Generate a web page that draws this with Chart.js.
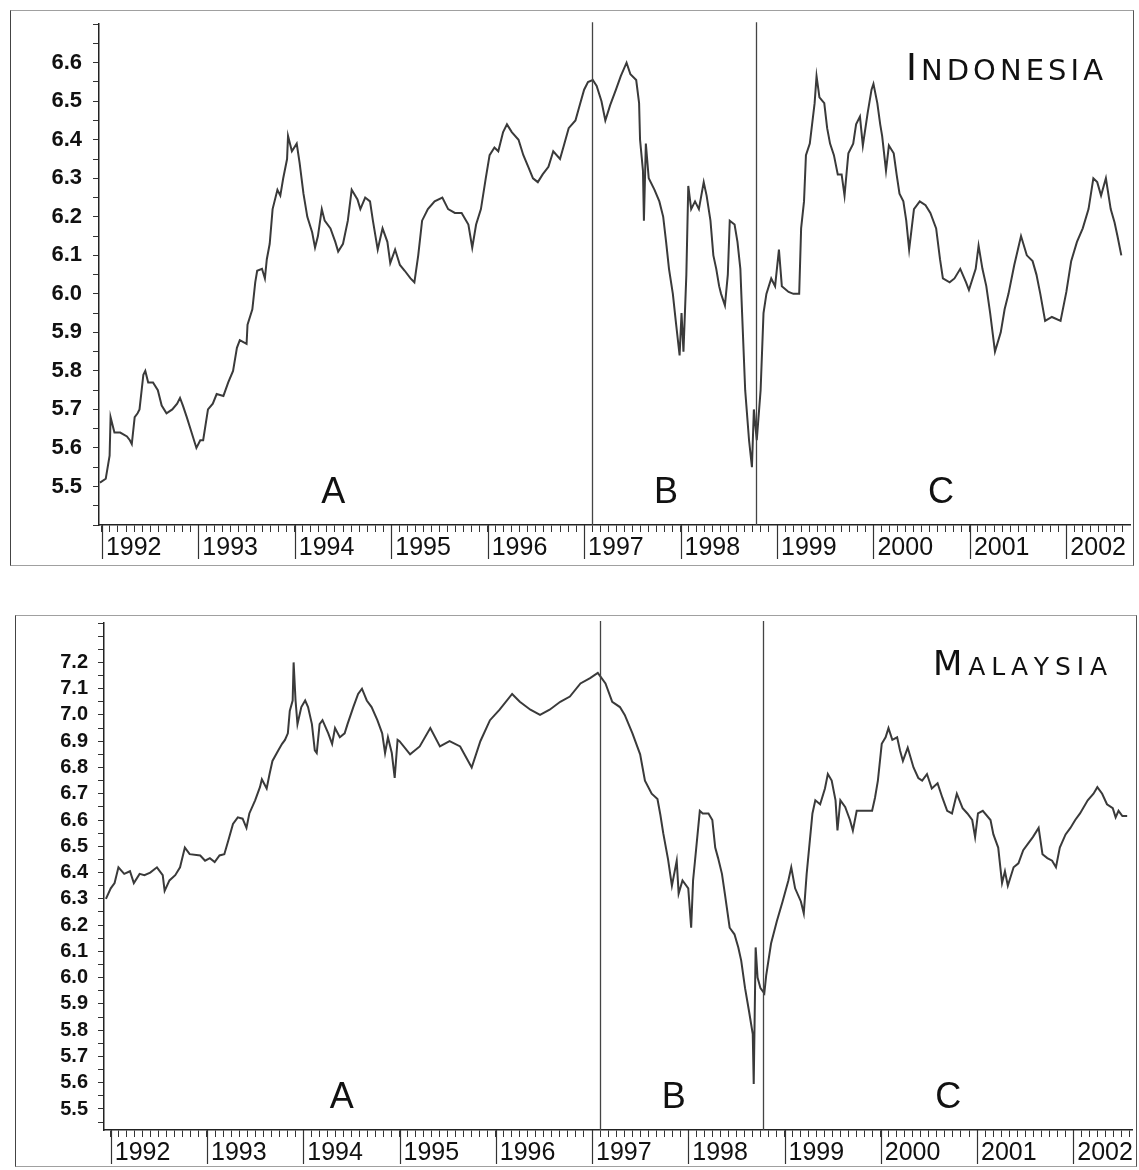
<!DOCTYPE html>
<html>
<head>
<meta charset="utf-8">
<title>Indonesia / Malaysia</title>
<script src="https://cdn.jsdelivr.net/npm/chart.js@4.4.1/dist/chart.umd.min.js"></script>
<style>
  html, body { margin: 0; padding: 0; background: #fff; }
  body { width: 1139px; height: 1170px; position: relative; overflow: hidden; }
  .panel { position: absolute; left: 0; width: 1139px; height: 580px; }
  .frame { position: absolute; pointer-events: none; border-style: solid; border-width: 1px;
           border-color: #a0a0a0 #555 #a0a0a0 #444; }
</style>
</head>
<body>
<div class="frame" style="left:10px;top:10px;width:1122px;height:554px"></div>
<div class="panel" style="top:0"><canvas id="indonesia"></canvas></div>
<div class="frame" style="left:15px;top:615px;width:1120px;height:550px"></div>
<div class="panel" style="top:590px"><canvas id="malaysia"></canvas></div>

<script>
// year axis, regime breaks and regime names (shared by both panels)
const years = [1992, 1993, 1994, 1995, 1996, 1997, 1998, 1999, 2000, 2001, 2002];
const breakDates = [1997.08, 1998.78];
const regimeNames = ['A', 'B', 'C'];
const regimeCentres = [1994.4, 1997.85, 2000.7];

// y tick labels
const indoYLabels = [5.5, 5.6, 5.7, 5.8, 5.9, 6.0, 6.1, 6.2, 6.3, 6.4, 6.5, 6.6];
const malYLabels = [5.5, 5.6, 5.7, 5.8, 5.9, 6.0, 6.1, 6.2, 6.3, 6.4, 6.5, 6.6, 6.7, 6.8, 6.9, 7.0, 7.1, 7.2];

// [decimal year, value]
const indonesia = [
  [1991.98,5.51],[1992.04,5.52],[1992.08,5.58],[1992.09,5.68],[1992.13,5.64],[1992.19,5.64],[1992.26,5.63],
  [1992.29,5.62],[1992.31,5.61],[1992.34,5.68],[1992.37,5.69],[1992.39,5.70],[1992.43,5.79],[1992.45,5.80],
  [1992.48,5.77],[1992.53,5.77],[1992.58,5.75],[1992.62,5.71],[1992.67,5.69],[1992.73,5.70],[1992.78,5.715],
  [1992.81,5.73],[1992.84,5.71],[1992.88,5.68],[1992.93,5.64],[1992.98,5.60],[1993.02,5.62],[1993.05,5.62],
  [1993.10,5.70],[1993.15,5.715],[1993.19,5.74],[1993.26,5.735],[1993.31,5.77],[1993.36,5.80],[1993.40,5.86],
  [1993.43,5.88],[1993.50,5.87],[1993.51,5.92],[1993.56,5.96],[1993.59,6.03],[1993.61,6.06],[1993.66,6.065],
  [1993.69,6.04],[1993.71,6.09],[1993.74,6.13],[1993.77,6.22],[1993.82,6.27],[1993.85,6.255],[1993.88,6.30],
  [1993.92,6.35],[1993.93,6.41],[1993.97,6.37],[1994.02,6.39],[1994.05,6.34],[1994.09,6.26],[1994.13,6.20],
  [1994.18,6.16],[1994.21,6.12],[1994.24,6.15],[1994.28,6.22],[1994.31,6.19],[1994.37,6.17],[1994.42,6.135],
  [1994.45,6.11],[1994.50,6.13],[1994.55,6.19],[1994.59,6.27],[1994.65,6.245],[1994.68,6.22],[1994.73,6.25],
  [1994.78,6.24],[1994.81,6.19],[1994.86,6.115],[1994.91,6.17],[1994.96,6.135],[1994.99,6.08],[1995.04,6.115],
  [1995.09,6.075],[1995.14,6.06],[1995.20,6.04],[1995.24,6.03],[1995.28,6.10],[1995.32,6.19],[1995.38,6.22],
  [1995.45,6.24],[1995.53,6.25],[1995.59,6.22],[1995.66,6.21],[1995.73,6.21],[1995.80,6.18],[1995.84,6.12],
  [1995.88,6.18],[1995.93,6.22],[1995.98,6.30],[1996.02,6.36],[1996.07,6.38],[1996.11,6.37],[1996.16,6.42],
  [1996.20,6.44],[1996.25,6.42],[1996.32,6.40],[1996.37,6.36],[1996.42,6.33],[1996.47,6.30],[1996.52,6.29],
  [1996.57,6.31],[1996.63,6.33],[1996.68,6.37],[1996.75,6.35],[1996.79,6.385],[1996.84,6.43],[1996.91,6.45],
  [1996.96,6.495],[1997.00,6.53],[1997.04,6.55],[1997.09,6.555],[1997.13,6.54],[1997.18,6.50],[1997.22,6.45],
  [1997.27,6.49],[1997.33,6.53],[1997.38,6.565],[1997.44,6.60],[1997.48,6.57],[1997.54,6.555],[1997.57,6.495],
  [1997.58,6.40],[1997.61,6.32],[1997.62,6.19],[1997.64,6.39],[1997.67,6.30],[1997.73,6.27],[1997.78,6.24],
  [1997.82,6.20],[1997.85,6.135],[1997.88,6.065],[1997.92,6.00],[1997.95,5.93],[1997.99,5.84],[1998.01,5.95],
  [1998.03,5.85],[1998.06,6.05],[1998.08,6.28],[1998.11,6.22],[1998.15,6.24],[1998.19,6.22],[1998.24,6.29],
  [1998.27,6.255],[1998.31,6.19],[1998.34,6.10],[1998.37,6.065],[1998.40,6.02],[1998.42,6.00],[1998.46,5.97],
  [1998.49,6.05],[1998.51,6.19],[1998.56,6.18],[1998.59,6.135],[1998.62,6.065],[1998.63,6.00],[1998.67,5.75],
  [1998.71,5.62],[1998.74,5.55],[1998.76,5.70],[1998.79,5.62],[1998.83,5.75],[1998.86,5.95],[1998.89,6.00],
  [1998.94,6.04],[1998.98,6.02],[1999.02,6.115],[1999.05,6.02],[1999.12,6.005],[1999.17,6.00],[1999.23,6.00],
  [1999.25,6.17],[1999.28,6.24],[1999.30,6.36],[1999.34,6.39],[1999.39,6.495],[1999.41,6.565],[1999.44,6.51],
  [1999.49,6.495],[1999.52,6.43],[1999.55,6.39],[1999.59,6.36],[1999.63,6.31],[1999.67,6.31],[1999.70,6.255],
  [1999.74,6.365],[1999.79,6.39],[1999.82,6.44],[1999.86,6.46],[1999.89,6.385],[1999.94,6.47],[1999.98,6.53],
  [2000.00,6.545],[2000.04,6.495],[2000.07,6.44],[2000.09,6.41],[2000.13,6.32],[2000.16,6.385],[2000.21,6.365],
  [2000.24,6.31],[2000.27,6.26],[2000.31,6.24],[2000.34,6.19],[2000.37,6.115],[2000.42,6.22],[2000.48,6.24],
  [2000.54,6.23],[2000.59,6.21],[2000.65,6.17],[2000.69,6.09],[2000.72,6.04],[2000.79,6.03],[2000.84,6.04],
  [2000.90,6.065],[2000.96,6.03],[2000.99,6.01],[2001.06,6.065],[2001.09,6.125],[2001.13,6.065],[2001.17,6.02],
  [2001.21,5.95],[2001.26,5.85],[2001.32,5.90],[2001.36,5.96],[2001.40,6.00],[2001.46,6.075],[2001.53,6.15],
  [2001.59,6.10],[2001.65,6.085],[2001.69,6.05],[2001.73,6.00],[2001.78,5.93],[2001.85,5.94],[2001.94,5.93],
  [2002.00,6.005],[2002.05,6.085],[2002.11,6.135],[2002.17,6.17],[2002.23,6.22],[2002.28,6.30],[2002.32,6.29],
  [2002.36,6.255],[2002.41,6.30],[2002.46,6.22],[2002.50,6.185],[2002.53,6.15],[2002.57,6.10]
];

const malaysia = [
  [1991.95,6.30],[1992.00,6.34],[1992.04,6.36],[1992.08,6.42],[1992.14,6.395],[1992.20,6.405],[1992.24,6.36],
  [1992.30,6.395],[1992.35,6.39],[1992.41,6.40],[1992.48,6.42],[1992.54,6.39],[1992.56,6.33],[1992.61,6.37],
  [1992.67,6.39],[1992.72,6.42],[1992.77,6.495],[1992.82,6.47],[1992.93,6.465],[1992.98,6.445],[1993.03,6.455],
  [1993.08,6.44],[1993.13,6.465],[1993.18,6.47],[1993.22,6.52],[1993.27,6.585],[1993.32,6.61],[1993.37,6.605],
  [1993.41,6.57],[1993.44,6.625],[1993.50,6.675],[1993.55,6.725],[1993.57,6.755],[1993.62,6.72],[1993.65,6.775],
  [1993.68,6.825],[1993.74,6.865],[1993.78,6.89],[1993.81,6.905],[1993.84,6.93],[1993.86,7.015],[1993.89,7.055],
  [1993.90,7.20],[1993.92,7.055],[1993.94,6.965],[1993.98,7.03],[1994.02,7.055],[1994.05,7.03],[1994.09,6.965],
  [1994.12,6.865],[1994.14,6.855],[1994.17,6.965],[1994.20,6.98],[1994.26,6.93],[1994.30,6.89],[1994.33,6.95],
  [1994.38,6.915],[1994.43,6.93],[1994.46,6.965],[1994.52,7.03],[1994.57,7.08],[1994.61,7.10],[1994.66,7.055],
  [1994.71,7.03],[1994.77,6.98],[1994.82,6.93],[1994.85,6.855],[1994.88,6.915],[1994.92,6.855],[1994.95,6.76],
  [1994.98,6.905],[1995.00,6.90],[1995.11,6.85],[1995.21,6.88],[1995.32,6.95],[1995.42,6.88],[1995.52,6.90],
  [1995.63,6.88],[1995.75,6.80],[1995.84,6.90],[1995.94,6.98],[1996.04,7.02],[1996.17,7.08],[1996.25,7.05],
  [1996.36,7.02],[1996.46,7.00],[1996.56,7.02],[1996.67,7.05],[1996.77,7.07],[1996.88,7.12],[1996.98,7.14],
  [1997.06,7.16],[1997.14,7.12],[1997.21,7.05],[1997.29,7.03],[1997.34,7.00],[1997.42,6.93],[1997.50,6.85],
  [1997.55,6.75],[1997.62,6.70],[1997.68,6.68],[1997.71,6.62],[1997.74,6.55],[1997.79,6.45],[1997.83,6.35],
  [1997.88,6.445],[1997.90,6.32],[1997.94,6.37],[1998.00,6.34],[1998.03,6.19],[1998.05,6.37],[1998.07,6.445],
  [1998.12,6.635],[1998.15,6.625],[1998.21,6.625],[1998.25,6.60],[1998.28,6.495],[1998.31,6.455],[1998.35,6.395],
  [1998.38,6.32],[1998.43,6.19],[1998.48,6.165],[1998.52,6.115],[1998.55,6.065],[1998.59,5.96],[1998.63,5.875],
  [1998.67,5.785],[1998.68,5.595],[1998.70,6.115],[1998.72,6.00],[1998.75,5.96],[1998.79,5.94],[1998.81,6.01],
  [1998.86,6.13],[1998.92,6.215],[1998.98,6.29],[1999.04,6.37],[1999.07,6.42],[1999.11,6.34],[1999.17,6.29],
  [1999.20,6.245],[1999.23,6.395],[1999.29,6.625],[1999.32,6.675],[1999.37,6.66],[1999.42,6.72],[1999.45,6.775],
  [1999.49,6.75],[1999.53,6.675],[1999.55,6.56],[1999.58,6.675],[1999.63,6.65],[1999.68,6.60],[1999.71,6.56],
  [1999.75,6.635],[1999.81,6.635],[1999.86,6.635],[1999.91,6.635],[1999.94,6.685],[1999.97,6.75],[2000.01,6.89],
  [2000.05,6.915],[2000.08,6.95],[2000.12,6.905],[2000.17,6.915],[2000.20,6.865],[2000.23,6.825],[2000.28,6.875],
  [2000.34,6.80],[2000.39,6.76],[2000.43,6.75],[2000.48,6.775],[2000.53,6.72],[2000.59,6.74],[2000.64,6.685],
  [2000.69,6.635],[2000.74,6.625],[2000.79,6.70],[2000.85,6.645],[2000.90,6.625],[2000.95,6.60],[2000.98,6.535],
  [2001.01,6.625],[2001.06,6.635],[2001.14,6.60],[2001.17,6.545],[2001.22,6.495],[2001.26,6.36],[2001.29,6.405],
  [2001.32,6.35],[2001.38,6.42],[2001.43,6.435],[2001.48,6.485],[2001.53,6.51],[2001.58,6.535],[2001.64,6.57],
  [2001.68,6.47],[2001.73,6.455],[2001.78,6.445],[2001.82,6.42],[2001.86,6.495],[2001.92,6.545],[2001.97,6.57],
  [2002.02,6.60],[2002.07,6.625],[2002.15,6.675],[2002.21,6.70],[2002.25,6.725],[2002.30,6.70],[2002.35,6.66],
  [2002.41,6.645],[2002.44,6.61],[2002.47,6.635],[2002.51,6.615],[2002.56,6.615]
];

const monthTicks = years.flatMap(yr => Array.from({length: 12}, (_, m) => yr + m / 12));

// draws the long year ticks, the regime break lines, the A/B/C letters and the country name
const panelDecor = {
  id: 'panelDecor',
  afterDraw(chart, args, o) {
    const { ctx, chartArea: a, scales: { x } } = chart;
    ctx.save();
    ctx.strokeStyle = '#333';
    ctx.lineWidth = 1.2;
    years.forEach(yr => {
      const px = Math.round(x.getPixelForValue(yr)) + 0.5;
      ctx.beginPath();
      ctx.moveTo(px, a.bottom);
      ctx.lineTo(px, a.bottom + o.yearTickLen);
      ctx.stroke();
    });

    ctx.strokeStyle = '#444';
    ctx.lineWidth = 1.3;
    breakDates.forEach(d => {
      const px = Math.round(x.getPixelForValue(d)) + 0.5;
      ctx.beginPath();
      ctx.moveTo(px, a.top - 2);
      ctx.lineTo(px, a.bottom);
      ctx.stroke();
    });

    ctx.fillStyle = '#111';
    ctx.font = '36px "Liberation Sans"';
    ctx.textAlign = 'center';
    ctx.textBaseline = 'alphabetic';
    regimeNames.forEach((n, i) => {
      ctx.fillText(n, x.getPixelForValue(regimeCentres[i]), a.bottom - o.letterGap);
    });

    // small caps title, stretched to the width seen in the figure
    const first = o.title[0];
    const rest = o.title.slice(1).toUpperCase().split('');
    ctx.textAlign = 'left';
    ctx.font = o.bigSize + 'px "DejaVu Sans"';
    const w0 = ctx.measureText(first).width;
    ctx.font = o.smallSize + 'px "DejaVu Sans"';
    const ws = rest.map(c => ctx.measureText(c).width);
    const natural = w0 + ws.reduce((s, w) => s + w, 0);
    const gap = (o.titleWidth - natural) / rest.length;
    let cx = a.right - o.titleRight - o.titleWidth;
    const base = a.top + o.titleBaseline;
    ctx.font = o.bigSize + 'px "DejaVu Sans"';
    ctx.fillText(first, cx, base);
    cx += w0 + gap;
    ctx.font = o.smallSize + 'px "DejaVu Sans"';
    rest.forEach((c, i) => {
      ctx.fillText(c, cx, base);
      cx += ws[i] + gap;
    });
    ctx.restore();
  }
};

function makePanel(id, series, cfg) {
  const yTicks = [];
  for (let n = Math.ceil(cfg.yMin * 20); n <= Math.floor(cfg.yMax * 20 + 1e-6); n++) yTicks.push(n / 20);
  const labelSet = new Set(cfg.yLabels.map(v => v.toFixed(1)));

  return new Chart(document.getElementById(id), {
    type: 'line',
    data: {
      datasets: [{
        data: series.map(p => ({ x: p[0], y: p[1] })),
        borderColor: '#3a3a3a',
        borderWidth: 2,
        pointRadius: 0,
        tension: 0,
        fill: false
      }]
    },
    options: {
      responsive: true,
      maintainAspectRatio: false,
      animation: false,
      events: [],
      layout: { padding: cfg.padding },
      plugins: {
        legend: { display: false },
        tooltip: { enabled: false },
        panelDecor: cfg.decor
      },
      scales: {
        x: {
          type: 'linear',
          min: cfg.xMin,
          max: cfg.xMax,
          afterBuildTicks: s => { s.ticks = monthTicks.filter(v => v >= s.min && v <= s.max).map(v => ({ value: v })); },
          afterFit: s => { s.height = 40; },
          grid: { drawOnChartArea: false, tickLength: 7, color: '#333', lineWidth: 1 },
          border: { color: '#222', width: 1.5 },
          ticks: {
            autoSkip: false, maxRotation: 0, minRotation: 0,
            align: 'start', labelOffset: 4, padding: 1,
            color: '#111',
            font: { family: '"Liberation Sans"', size: 25 },
            callback: v => years.includes(v) ? String(v) : ''
          }
        },
        y: {
          type: 'linear',
          min: cfg.yMin,
          max: cfg.yMax,
          afterBuildTicks: s => { s.ticks = yTicks.map(v => ({ value: v })); },
          afterFit: s => { s.width = cfg.yWidth; },
          grid: { drawOnChartArea: false, tickLength: 6, color: '#333', lineWidth: 1 },
          border: { color: '#222', width: 1.5 },
          ticks: {
            autoSkip: false,
            padding: cfg.yPad,
            color: '#111',
            font: { family: '"Liberation Sans"', size: cfg.yFont, weight: 'bold' },
            callback: v => Math.abs(v * 10 - Math.round(v * 10)) < 1e-6 && labelSet.has(v.toFixed(1)) ? v.toFixed(1) : ''
          }
        }
      }
    },
    plugins: [panelDecor]
  });
}

makePanel('indonesia', indonesia, {
  xMin: 1991.97, xMax: 2002.66,
  yMin: 5.4, yMax: 6.7, yLabels: indoYLabels,
  yWidth: 99, yPad: 11, yFont: 22,
  padding: { top: 20, right: 9, bottom: 15, left: 0 },
  decor: { yearTickLen: 34, letterGap: 22, title: 'Indonesia', bigSize: 37, smallSize: 29,
           titleWidth: 197, titleRight: 27, titleBaseline: 56 }
});

makePanel('malaysia', malaysia, {
  xMin: 1991.93, xMax: 2002.61,
  yMin: 5.42, yMax: 7.35, yLabels: malYLabels,
  yWidth: 104, yPad: 10, yFont: 20,
  padding: { top: 33, right: 7, bottom: 0, left: 0 },
  decor: { yearTickLen: 34, letterGap: 22, title: 'Malaysia', bigSize: 34, smallSize: 25,
           titleWidth: 174, titleRight: 25, titleBaseline: 52 }
});
</script>
</body>
</html>
